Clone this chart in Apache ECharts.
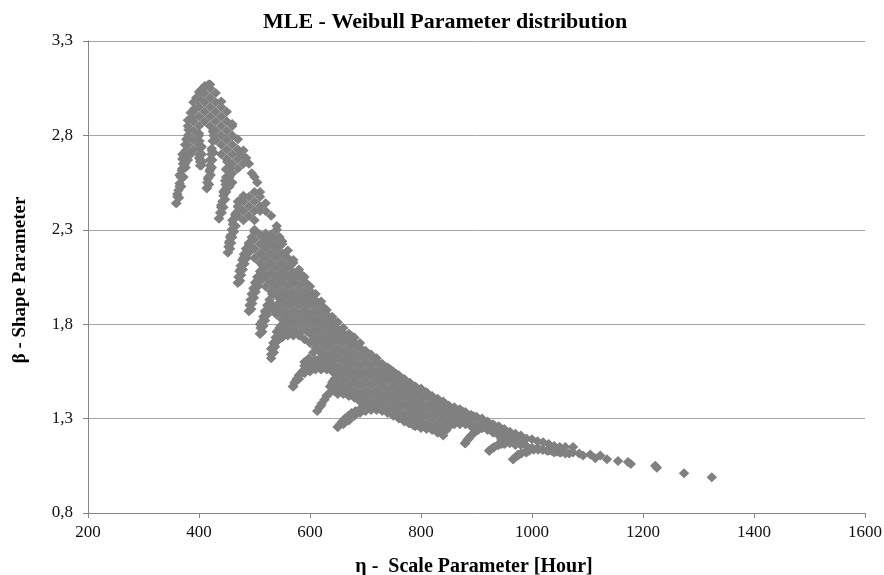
<!DOCTYPE html>
<html><head><meta charset="utf-8">
<script src="https://cdn.jsdelivr.net/npm/echarts@6/dist/echarts.min.js"></script>
<style>html,body{margin:0;background:#fff}#c{width:884px;height:575px}</style></head>
<body><div id="c"></div>
<script>
const titleText = "MLE - Weibull Parameter distribution";
const xAxisTitle = "η -  Scale Parameter [Hour]";
const yAxisTitle = "β - Shape Parameter";
const etaValues = [359,361,365,370,375,380,385,390,395,400,402,405,410,414,416,420,423,425,430,436,440,444,447,449,450,452,454,455,456,460,465,470,475,480,485,490,495,500,505,510,515,520,525,530,535,540,545,550,560,570,575,580,590,600,610,620,630,640,650,660,670,680,690,700,710,720,730,740,750,760,770,780,790,800,810,820,830,840,850,860,870,880,885,890,900,910,920,923,930,940,950,960,966,970,975,980,990,1000,1010,1020,1030,1040,1050,1060,1074,1092,1105,1114,1123,1135,1155,1173,1178,1222,1225,1274,1324];
const betaValues = [
[2.44],[2.49],[2.53,2.59],[2.575,2.625,2.675,2.7],[2.65,2.75],[2.7,2.75,2.8,2.85,2.88],[2.92],[2.725,2.775,2.825,2.875,2.925,2.975],[3],[2.68,2.7,2.75,2.8,2.85,2.9,2.95,3,3.03],[2.64,2.66],[3.045],[2.875,2.925,2.975,3.025,3.06],[2.52],[2.57],[2.62,2.67,2.85,2.9,2.95,3,3.05,3.07],[2.72],[2.77,2.82],[2.775,2.825,2.875,2.925,2.975,3.025],[2.36],[2.43,2.7,2.75,2.8,2.85,2.9,2.95,2.98],[2.5],[2.56],[2.62],[2.525,2.575,2.625,2.675,2.725,2.775,2.825,2.875,2.925],[2.18],[2.23],[2.53,2.58,2.63],[2.26],[2.3,2.35,2.55,2.6,2.65,2.7,2.75,2.8,2.85,2.86],[2.38],[2.02,2.375,2.425,2.45,2.625,2.675,2.725,2.78],[2.09,2.7],[2.15,2.35,2.4,2.45,2.48,2.65,2.72],[2.2,2.68],[1.87,2.225,2.375,2.425,2.475,2.65],[1.93,2.2,2.6],[1.98,2.15,2.2,2.25,2.3,2.35,2.4,2.45,2.5,2.58],[2.03,2.55],[1.75,1.8,2.125,2.175,2.225,2.275,2.4,2.425,2.475,2.5],[1.82],[1.86,2,2.05,2.1,2.15,2.2,2.25,2.28,2.4,2.44],[1.88],[1.62,1.67,1.91,1.975,2.025,2.075,2.125,2.175,2.225,2.275,2.375],[1.7,1.87],[1.71,1.76,1.85,1.9,1.95,2,2.05,2.1,2.15,2.2,2.25,2.3,2.32],[1.74,1.78],[1.73,1.775,1.825,1.875,1.925,1.975,2.025,2.075,2.125,2.175,2.225,2.24],[1.74,1.8,1.85,1.9,1.95,2,2.05,2.1,2.15,2.19],[1.47,1.74,1.775,1.825,1.875,1.925,1.975,2.025,2.075,2.125,2.14],[1.5],[1.51,1.74,1.8,1.85,1.9,1.95,2,2.05,2.09],[1.54,1.58,1.72,1.775,1.825,1.875,1.925,1.975,2.025,2.05],[1.55,1.6,1.7,1.75,1.8,1.85,1.9,1.95,2],[1.56,1.61,1.675,1.725,1.775,1.825,1.875,1.925,1.96],[1.37,1.56,1.6,1.65,1.7,1.75,1.8,1.85,1.9,1.92],[1.42,1.56,1.575,1.625,1.675,1.725,1.775,1.825,1.875],[1.45,1.49,1.55,1.6,1.65,1.7,1.75,1.8,1.84],[1.255,1.43,1.475,1.525,1.575,1.625,1.675,1.725,1.775,1.81],[1.27,1.43,1.45,1.5,1.55,1.6,1.65,1.7,1.75,1.78],[1.29,1.42,1.475,1.525,1.575,1.625,1.675,1.725,1.75],[1.315,1.41,1.45,1.5,1.55,1.6,1.65,1.7,1.73],[1.33,1.39,1.425,1.475,1.525,1.575,1.625,1.675,1.7],[1.34,1.4,1.45,1.5,1.55,1.6,1.65,1.66],[1.345,1.375,1.425,1.475,1.525,1.575,1.625,1.64],[1.345,1.4,1.45,1.5,1.55,1.6,1.62],[1.34,1.375,1.425,1.475,1.525,1.575,1.59],[1.33,1.35,1.4,1.45,1.5,1.55,1.57],[1.315,1.375,1.425,1.475,1.525,1.55],[1.3,1.35,1.4,1.45,1.5,1.53],[1.285,1.325,1.375,1.425,1.475,1.51],[1.275,1.3,1.35,1.4,1.45,1.49],[1.26,1.325,1.375,1.425,1.47],[1.25,1.3,1.35,1.4,1.46],[1.245,1.275,1.325,1.375,1.425,1.44],[1.24,1.3,1.35,1.4,1.42],[1.225,1.275,1.325,1.375,1.405],[1.21,1.25,1.3,1.35,1.39],[1.255,1.275,1.325,1.37],[1.27,1.3,1.35,1.36],[1.27,1.325,1.35],[1.17,1.27,1.3,1.335],[1.19],[1.21,1.26,1.275,1.32],[1.235,1.25,1.3,1.31],[1.25,1.275,1.3],[1.24,1.285],[1.13],[1.145,1.225,1.27],[1.16,1.21,1.26],[1.165,1.205,1.245],[1.17,1.2,1.23],[1.085],[1.16,1.2,1.22],[1.11],[1.115,1.16,1.21],[1.12,1.155,1.195],[1.145,1.19],[1.145,1.18],[1.135,1.175],[1.13,1.165],[1.12,1.155],[1.12,1.15],[1.115,1.15],[1.12,1.15],[1.105],[1.11],[1.09],[1.105],[1.085],[1.075],[1.07],[1.06],[1.05],[1.04],[1.01],[0.99]
];
const fingerArcs = [
[[359,2.44],[361,2.475],[363,2.51],[365,2.545],[367,2.58],[369,2.615],[371,2.65],[373,2.685],[376,2.72],[364,2.47],[368,2.53],[372,2.58],[376,2.63],[380,2.67],[385,2.7],[377,2.78],[381,2.83],[386,2.89],[391,2.94],[397,2.99],[404,3.03],[411,3.06],[417,3.07]],
[[404,2.64],[403,2.67],[402,2.7],[402,2.73],[401,2.77],[400,2.81],[406,2.66],[405,2.7],[405,2.74]],
[[414,2.52],[415,2.55],[417,2.58],[419,2.61],[420,2.64],[421,2.67],[422,2.7],[423,2.73],[425,2.77],[426,2.8],[418,2.54],[421,2.59],[423,2.63],[424,2.67],[426,2.71]],
[[436,2.36],[438,2.39],[440,2.42],[442,2.45],[444,2.48],[446,2.51],[448,2.54],[449,2.58],[450,2.62],[451,2.66],[441,2.39],[444,2.42],[447,2.46],[449,2.5],[452,2.54],[453,2.58]],
[[452,2.18],[453,2.21],[455,2.24],[457,2.27],[459,2.3],[461,2.33],[464,2.36],[467,2.39],[471,2.42],[476,2.46],[456,2.2],[458,2.23],[460,2.26],[463,2.29],[466,2.32]],
[[470,2.02],[471,2.05],[473,2.08],[475,2.11],[478,2.14],[481,2.17],[485,2.2],[490,2.23],[495,2.26],[500,2.29],[474,2.03],[476,2.06],[479,2.09],[482,2.12],[486,2.15],[490,2.18]],
[[490,1.87],[491,1.9],[493,1.93],[495,1.96],[498,1.99],[501,2.02],[505,2.05],[510,2.08],[515,2.11],[494,1.88],[496,1.91],[499,1.94],[502,1.97],[506,2],[511,2.03],[516,2.06]],
[[510,1.75],[511,1.78],[513,1.81],[516,1.84],[519,1.87],[523,1.9],[527,1.93],[532,1.96],[514,1.76],[516,1.79],[519,1.82],[523,1.85],[528,1.88]],
[[530,1.64],[531,1.67],[534,1.7],[538,1.73],[542,1.76],[547,1.79],[553,1.82],[535,1.65],[537,1.68],[541,1.71],[546,1.74],[552,1.75]],
[[569,1.47],[572,1.49],[576,1.51],[580,1.53],[585,1.545],[590,1.56],[596,1.575],[603,1.58],[612,1.585],[622,1.58],[632,1.57],[642,1.55],[590,1.6],[598,1.62],[606,1.65]],
[[613,1.34],[617,1.36],[621,1.38],[626,1.4],[631,1.425],[637,1.44],[644,1.445],[652,1.45],[660,1.445],[668,1.44],[678,1.43],[688,1.42],[636,1.47],[642,1.5]],
[[650,1.255],[654,1.27],[658,1.285],[663,1.3],[669,1.315],[675,1.33],[682,1.34],[690,1.35],[698,1.355],[706,1.36],[714,1.36],[722,1.36],[730,1.355],[738,1.345],[746,1.335],[754,1.32],[762,1.305],[770,1.29],[778,1.275],[786,1.265]],
[[879,1.17],[883,1.185],[887,1.2],[892,1.215],[897,1.23],[903,1.24],[910,1.25]],
[[923,1.13],[927,1.14],[932,1.15],[938,1.16],[945,1.165],[952,1.17],[960,1.175],[968,1.175],[976,1.175],[984,1.17]],
[[966,1.085],[970,1.095],[975,1.105],[981,1.115],[988,1.125],[995,1.13],[1003,1.135],[1011,1.135],[1019,1.135],[1027,1.13],[1035,1.13],[1045,1.125],[1052,1.12],[1067,1.115],[1085,1.115]]
];
const coreEtas = [515,525,535,545,555,565,575,585,595,605,615,625,635,645,655,665,675,685,695,705,715,725,735,745,755,765,775,785,795,805,815,825,835,845,855,865,875,885,895,905,915,925,935,945,955];
const coreBetas = [
[2.1125,2.1625,2.2125,2.2625],
[2.0125,2.0625,2.1125,2.1625,2.2125,2.2625],
[1.9625,2.0125,2.0625,2.1125,2.1625,2.2125,2.2625],
[1.8625,1.9125,1.9625,2.0125,2.0625,2.1125,2.1625,2.2125,2.2625],
[1.7625,1.8125,1.8625,1.9125,1.9625,2.0125,2.0625,2.1125,2.1625],
[1.7625,1.8125,1.8625,1.9125,1.9625,2.0125,2.0625,2.1125],
[1.7625,1.8125,1.8625,1.9125,1.9625,2.0125,2.0625],
[1.7625,1.8125,1.8625,1.9125,1.9625,2.0125,2.0625],
[1.7625,1.8125,1.8625,1.9125,1.9625,2.0125],
[1.7125,1.7625,1.8125,1.8625,1.9125,1.9625],
[1.6125,1.6625,1.7125,1.7625,1.8125,1.8625,1.9125],
[1.5875,1.6375,1.6875,1.7375,1.7875,1.8375,1.8875],
[1.5875,1.6375,1.6875,1.7375,1.7875,1.8375],
[1.4625,1.5125,1.5625,1.6125,1.6625,1.7125,1.7625,1.8125],
[1.4625,1.5125,1.5625,1.6125,1.6625,1.7125,1.7625],
[1.4625,1.5125,1.5625,1.6125,1.6625,1.7125,1.7375],
[1.4375,1.4875,1.5375,1.5875,1.6375,1.6875,1.7375],
[1.4375,1.4875,1.5375,1.5875,1.6375,1.6875],
[1.3875,1.4375,1.4875,1.5375,1.5875,1.6375],
[1.3875,1.4375,1.4875,1.5375,1.5875,1.6375],
[1.3875,1.4375,1.4875,1.5375,1.5875],
[1.3875,1.4375,1.4875,1.5375,1.5875],
[1.3625,1.4125,1.4625,1.5125,1.5625],
[1.3625,1.4125,1.4625,1.5125,1.56],
[1.3375,1.3875,1.4375,1.4875,1.5375],
[1.3125,1.3625,1.4125,1.4625,1.5125],
[1.3125,1.3625,1.4125,1.4625,1.4875],
[1.2875,1.3375,1.3875,1.4375,1.4625],
[1.2875,1.3375,1.3875,1.4375],
[1.2625,1.3125,1.3625,1.4125],
[1.2625,1.3125,1.3625,1.4125],
[1.2625,1.3125,1.3625,1.3875],
[1.2375,1.2875,1.3375,1.3875],
[1.2375,1.2875,1.3375,1.3625],
[1.2875,1.3375],[1.2875,1.3375],[1.2875,1.3375],[1.2875,1.3125],[1.2625,1.3125],[1.2625],[1.2625],[1.2625],[1.2375],[1.1875,1.2375],[1.2125]
];
const xTicks = [200,400,600,800,1000,1200,1400,1600];
const yTickLabels = ["0,8","1,3","1,8","2,3","2,8","3,3"];

const points = [];
etaValues.forEach((e,i)=>betaValues[i].forEach(b=>points.push([e,b])));
coreEtas.forEach((e,i)=>coreBetas[i].forEach(b=>points.push([e,b])));
fingerArcs.forEach(a=>a.forEach(p=>points.push(p)));
const serif = '"Liberation Serif","Times New Roman",serif';
const chart = echarts.init(document.getElementById('c'),null,{renderer:'canvas'});
chart.setOption({
  animation:false,
  backgroundColor:'#fff',
  title:{text:titleText,left:258,top:6,textStyle:{fontFamily:serif,fontWeight:'bold',fontSize:22,color:'#000'}},
  grid:{left:88,right:19,top:41,bottom:62,outerBoundsMode:'none'},
  xAxis:{type:'value',min:xTicks[0],max:xTicks[xTicks.length-1],interval:200,
    name:xAxisTitle,nameLocation:'middle',nameGap:44,
    nameTextStyle:{fontFamily:serif,fontWeight:'bold',fontSize:20,color:'#000',padding:[0,0,0,-5]},
    axisLine:{lineStyle:{color:'#868686',width:1}},axisTick:{show:true,length:5,lineStyle:{color:'#868686'}},
    axisLabel:{fontFamily:serif,fontSize:17,color:'#111',margin:11,formatter:v=>String(v)},splitLine:{show:false}},
  yAxis:{type:'value',min:0.8,max:3.3,interval:0.5,
    name:yAxisTitle,nameLocation:'middle',nameGap:58,
    nameTextStyle:{fontFamily:serif,fontWeight:'bold',fontSize:19,color:'#000',padding:[0,0,0,-6]},
    axisLine:{show:true,lineStyle:{color:'#868686',width:1}},axisTick:{show:true,length:5,lineStyle:{color:'#868686'}},
    axisLabel:{fontFamily:serif,fontSize:17,color:'#111',margin:15,
      formatter:(v,i)=>yTickLabels[i]},
    splitLine:{show:true,lineStyle:{color:'#a6a6a6',width:1}}},
  series:[{type:'scatter',data:points,symbol:'diamond',symbolSize:[10.5,10],
    itemStyle:{color:'#808080',opacity:1},silent:true}]
});
</script></body></html>
